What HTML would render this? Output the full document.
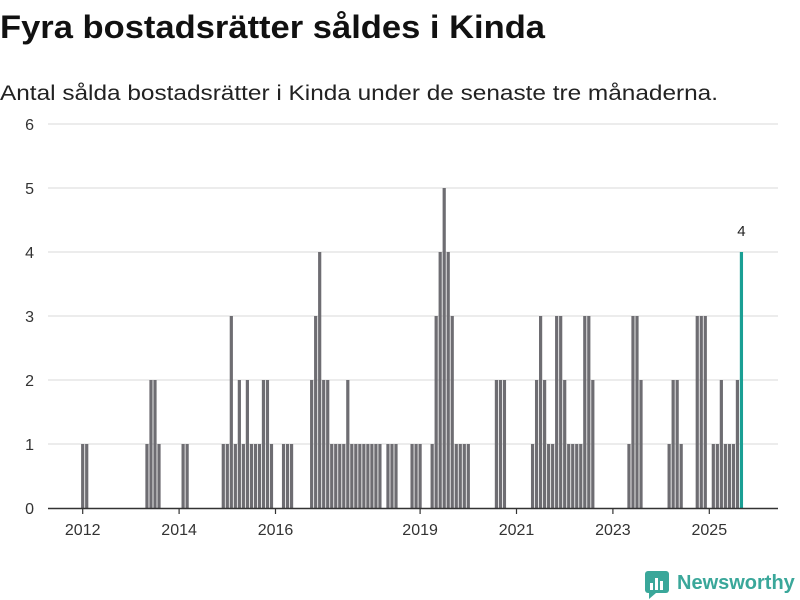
<!DOCTYPE html>
<html><head><meta charset="utf-8">
<style>
body{margin:0;background:#fff;font-family:"Liberation Sans",sans-serif;}
#wrap{position:relative;width:800px;height:600px;overflow:hidden;}
</style></head>
<body>
<div id="wrap">
<svg id="chart" width="800" height="600" viewBox="0 0 800 600">
  <text x="0" y="38" font-size="32" font-weight="bold" fill="#111" textLength="545" lengthAdjust="spacingAndGlyphs">Fyra bostadsrätter såldes i Kinda</text>
  <text x="0" y="100" font-size="21" fill="#222" textLength="718" lengthAdjust="spacingAndGlyphs">Antal sålda bostadsrätter i Kinda under de senaste tre månaderna.</text>
  <g id="grid"></g>
  <g id="yaxis"></g>
  <g id="bars"></g>
  <g id="xaxis"></g>
  <g>
    <rect x="645" y="571" width="24" height="22" rx="3" fill="#3aa79a"/>
    <polygon points="649,593 656,593 649,599" fill="#3aa79a"/>
    <rect x="650" y="583" width="3" height="7" fill="#fff"/>
    <rect x="655" y="578" width="3" height="12" fill="#fff"/>
    <rect x="660" y="581" width="3" height="9" fill="#fff"/>
    <text x="677" y="589" font-size="20" font-weight="bold" fill="#3aa79a">Newsworthy</text>
  </g>
</svg>
</div>
<script>
const startYear = 2012;
const values = [
 1,1,0,0,0,0,0,0,0,0,0,0,
 0,0,0,0,1,2,2,1,0,0,0,0,
 0,1,1,0,0,0,0,0,0,0,0,1,
 1,3,1,2,1,2,1,1,1,2,2,1,
 0,0,1,1,1,0,0,0,0,2,3,4,
 2,2,1,1,1,1,2,1,1,1,1,1,
 1,1,1,0,1,1,1,0,0,0,1,1,
 1,0,0,1,3,4,5,4,3,1,1,1,
 1,0,0,0,0,0,0,2,2,2,0,0,
 0,0,0,0,1,2,3,2,1,1,3,3,
 2,1,1,1,1,3,3,2,0,0,0,0,
 0,0,0,0,1,3,3,2,0,0,0,0,
 0,0,1,2,2,1,0,0,0,3,3,3,
 0,1,1,2,1,1,1,2,4
];
const yTicks = [0,1,2,3,4,5,6];
const xTickYears = [2012,2014,2016,2019,2021,2023,2025];

const NS = "http://www.w3.org/2000/svg";
function mk(tag, attrs, parent){const e=document.createElementNS(NS,tag);for(const k in attrs)e.setAttribute(k,attrs[k]);parent.appendChild(e);return e;}
function xScale(t){return 82.7 + (t - startYear) * 48.2;}
function yScale(v){return 508 - 64 * v;}

const grid=document.getElementById('grid'), yax=document.getElementById('yaxis'), barsG=document.getElementById('bars'), xax=document.getElementById('xaxis');
yTicks.forEach(v=>{
  if(v>0){
    const l=mk('line',{x1:48,x2:778,y1:yScale(v),y2:yScale(v),stroke:'#e0e0e0','stroke-width':1.2},grid);
    
    
  }
  const t=mk('text',{x:34,y:yScale(v)+6,'font-size':16,fill:'#333','text-anchor':'end'},yax);
  t.textContent=v;
  
  
});
values.forEach((v,i)=>{
  if(v<=0) return;
  const cx = xScale(startYear + i/12);
  const last = i===values.length-1;
  const r=mk('rect',{x:cx-1.6,y:yScale(v),width:3.2,height:yScale(0)-yScale(v),fill:last?'#1a9f94':'#6e6d72'},barsG);
  
  
  if(last){
    const t=mk('text',{x:cx,y:yScale(v)-16,'font-size':15,fill:'#222','text-anchor':'middle'},barsG);
    t.textContent=v;
    
    
  }
});
const base=mk('line',{x1:48,x2:778,y1:508.5,y2:508.5,stroke:'#333','stroke-width':1.5},xax);


xTickYears.forEach(yr=>{
  const x=xScale(yr);
  const tk=mk('line',{x1:x,x2:x,y1:509,y2:514,stroke:'#333','stroke-width':1.2},xax);
  
  
  const t=mk('text',{x:x,y:535,'font-size':16,fill:'#333','text-anchor':'middle'},xax);
  t.textContent=yr;
  
  
});
</script>
</body></html>
